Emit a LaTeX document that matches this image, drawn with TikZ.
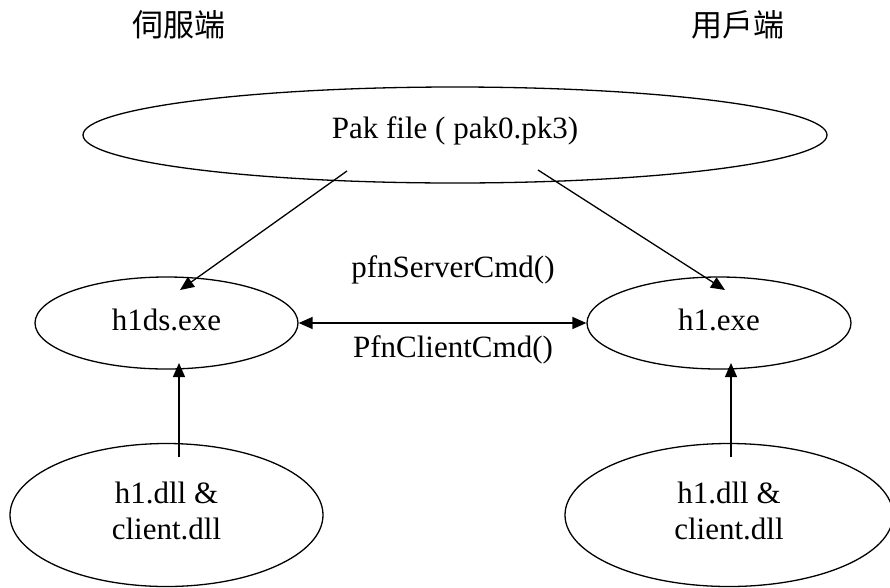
\documentclass[tikz,border=0pt]{standalone}
\usepackage{fontspec}
\setmainfont{Liberation Serif}
\newfontfamily\cjkfont{Noto Sans CJK TC}
\usetikzlibrary{arrows.meta,shapes.geometric}

\begin{document}
\begin{tikzpicture}[x=1pt,y=-1pt,
  blob/.style={ellipse, draw, line width=1.3pt, inner sep=0pt,
    font=\fontsize{31}{36}\selectfont},
  caption/.style={inner sep=0pt, font=\fontsize{31}{36}\selectfont},
  side/.style={inner sep=0pt, font=\cjkfont\fontsize{31}{36}\selectfont},
  tip/.style={Triangle[length=14pt,width=12pt]},
  link/.style={line width=1.3pt, -{Triangle[length=14pt,width=12pt]}},
  ]
\useasboundingbox (0,0) rectangle (890,587);
\clip (0,0) rectangle (890,587);

% column headings
\node[side] (srv) at (179,25) {伺服端};
\node[side] (cli) at (738,25) {用戶端};

% shared archive
\node[blob, minimum width=744pt, minimum height=96pt,
      text height=21pt, text depth=15pt] (pak) at (455,135) {Pak file ( pak0.pk3)};

% executables
\node[blob, minimum width=263pt, minimum height=92pt,
      text height=21pt, text depth=7pt] (h1ds) at (166.5,323) {h1ds.exe};
\node[blob, minimum width=264pt, minimum height=92pt,
      text height=21pt, text depth=7pt] (h1) at (719,323) {h1.exe};

% libraries
\node[blob, align=center, minimum width=313pt, minimum height=143pt,
      text height=57pt, text depth=9pt] (dllL) at (166.5,515) {h1.dll \&\\client.dll};
\node[blob, align=center, minimum width=328pt, minimum height=143pt,
      text height=57pt, text depth=9pt] (dllR) at (729,515) {h1.dll \&\\client.dll};

% loose ends of the connectors
\coordinate (pakL) at (347,171);
\coordinate (pakR) at (538,170);
\coordinate (h1dsTop) at (180,290);
\coordinate (h1Top) at (725,290);
\coordinate (dllLTop) at (179,457);
\coordinate (dllRTop) at (731,457);
\coordinate (h1dsBot) at (179,363);
\coordinate (h1Bot) at (731,363);

\draw[link] (pakL) -- (h1dsTop);
\draw[link] (pakR) -- (h1Top);
\draw[line width=1.6pt, {Triangle[length=14pt,width=12pt]}-{Triangle[length=14pt,width=12pt]}] (h1ds.east) -- (h1.west);
\draw[link] (dllLTop) -- (h1dsBot);
\draw[link] (dllRTop) -- (h1Bot);

% command labels
\node[caption, anchor=base] (srvcmd) at (453,277) {pfnServerCmd()};
\node[caption, anchor=base] (clicmd) at (453,357) {PfnClientCmd()};
\end{tikzpicture}
\end{document}
